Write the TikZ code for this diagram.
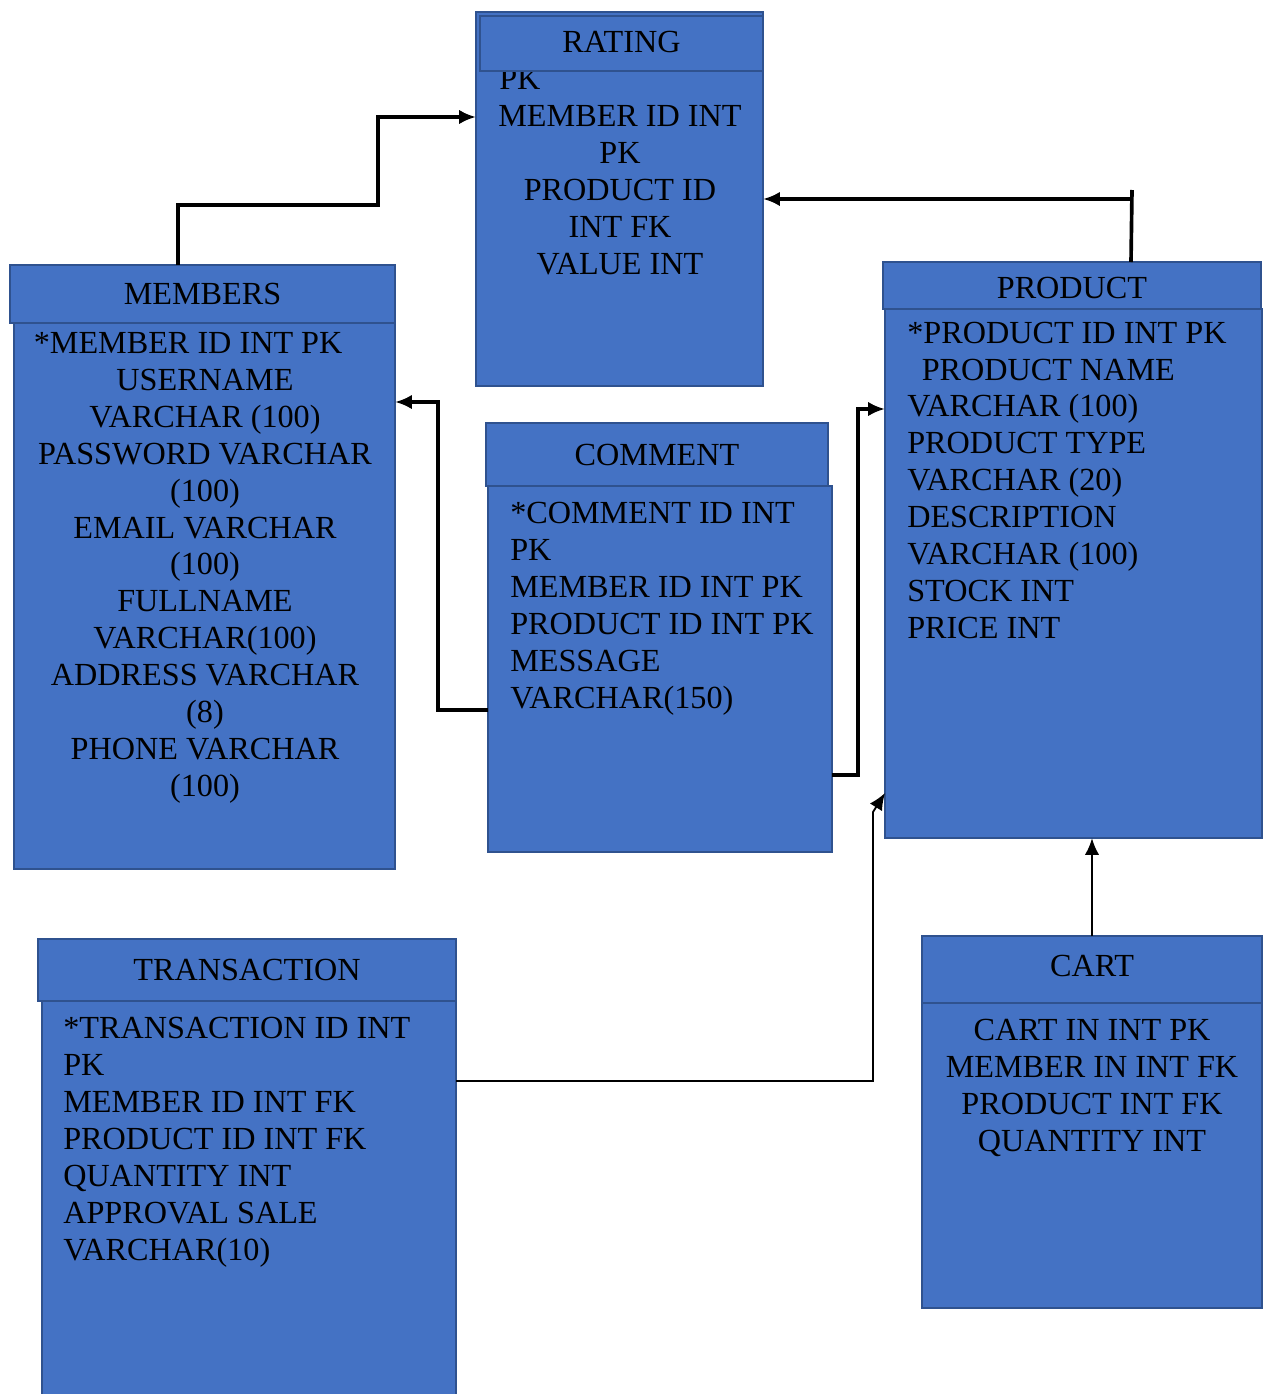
\documentclass[tikz,border=0pt]{standalone}
\usepackage{fontspec}
\setmainfont{Liberation Serif}
\usetikzlibrary{fit,arrows.meta}
\definecolor{boxblue}{HTML}{4472C4}
\definecolor{boxline}{HTML}{2F528F}
\tikzset{
  tbl/.style={draw=boxline, fill=boxblue, line width=1.4pt, inner sep=0pt, outer sep=0pt},
  rows/.style={inner sep=0pt, font=\fontsize{22.9}{26.2}\selectfont},
  link/.style={line width=2.6pt},
  thin link/.style={line width=1.3pt},
  tip/.style={-{Latex[length=0.42cm,width=0.36cm]}}
}
\begin{document}
\begin{tikzpicture}[x=0.025cm,y=-0.025cm]
\useasboundingbox (0,0) rectangle (1266,1394);
% table bodies
\node[tbl, fit={(476,12) (763,386)}] (rating) {};
\node[tbl, fit={(14,323) (395,869)}] (members) {};
\node[tbl, fit={(488,486) (832,852)}] (comment) {};
\node[tbl, fit={(885,309) (1262,838)}] (product) {};
\node[tbl, fit={(42,1001) (456,1400)}] (transaction) {};
\node[tbl, fit={(922,1003) (1262,1308)}] (cart) {};
% table rows (anchored at the last baseline)
\node[rows, anchor=base west] (ratingPk) at (499,89) {PK};
\node[rows, align=center, anchor=base] (ratingRows) at (620,274) {MEMBER ID INT\\PK\\PRODUCT ID\\INT FK\\VALUE INT};
\node[rows, align=center, anchor=base] (membersRows) at (205,796)
  {*MEMBER ID INT PK\hspace*{1.05em}\\USERNAME\\VARCHAR (100)\\PASSWORD VARCHAR\\(100)\\EMAIL VARCHAR\\(100)\\FULLNAME\\VARCHAR(100)\\ADDRESS VARCHAR\\(8)\\PHONE VARCHAR\\(100)};
\node[rows, align=left, anchor=base west] (commentRows) at (510,708)
  {*COMMENT ID INT\\PK\\MEMBER ID INT PK\\PRODUCT ID INT PK\\MESSAGE\\VARCHAR(150)};
\node[rows, align=left, anchor=base west] (productRows) at (907,638)
  {*PRODUCT ID INT PK\\\hspace*{0.45em}PRODUCT NAME\\VARCHAR (100)\\PRODUCT TYPE\\VARCHAR (20)\\DESCRIPTION\\VARCHAR (100)\\STOCK INT\\PRICE INT};
\node[rows, align=left, anchor=base west] (transactionRows) at (63,1260)
  {*TRANSACTION ID INT\\PK\\MEMBER ID INT FK\\PRODUCT ID INT FK\\QUANTITY INT\\APPROVAL SALE\\VARCHAR(10)};
\node[rows, align=center, anchor=base] (cartRows) at (1092,1151)
  {CART IN INT PK\\MEMBER IN INT FK\\PRODUCT INT FK\\QUANTITY INT};
% table headers
\node[tbl, fit={(480,16) (763,71)}] (rHead) {};
\node[tbl, fit={(10,265) (395,323)}] (mHead) {};
\node[tbl, fit={(486,423) (828,486)}] (cHead) {};
\node[tbl, fit={(883,262) (1261,309)}] (pHead) {};
\node[tbl, fit={(38,939) (456,1001)}] (tHead) {};
\node[tbl, fit={(922,936) (1262,1003)}] (kHead) {};
\node[rows] (rTitle) at ([yshift=0.03cm]rHead.center) {RATING};
\node[rows] (mTitle) at (mHead.center) {MEMBERS};
\node[rows] (cTitle) at (cHead.center) {COMMENT};
\node[rows] (pTitle) at ([yshift=-0.07cm]pHead.center) {PRODUCT};
\node[rows] (tTitle) at (tHead.center) {TRANSACTION};
\node[rows] (kTitle) at ([yshift=0.08cm]kHead.center) {CART};
% bends
\coordinate (m1) at (178,205);
\coordinate (m2) at (378,205);
\coordinate (m3) at (378,117);
\coordinate (p1) at (1131,199);
\coordinate (p2) at (1132,190);
\coordinate (c1) at (438,710);
\coordinate (c2) at (438,402);
\coordinate (c3) at (858,775);
\coordinate (c4) at (858,409);
\coordinate (t1) at (873,1081);
\coordinate (t2) at (873,812);
\coordinate (t3) at (885,793);
% links
\draw[link, tip] (mHead.north -| m1) -- (m1) -- (m2) -- (m3) -- (rating.west |- m3);
\draw[link] (pHead.north -| p1) -- (p2);
\draw[link, tip] (p1) -- (rating.east |- p1);
\draw[link, tip] (comment.west |- c1) -- (c1) -- (c2) -- (members.east |- c2);
\draw[link, tip] (comment.east |- c3) -- (c3) -- (c4) -- (product.west |- c4);
\draw[thin link, tip] (transaction.east |- t1) -- (t1) -- (t2) -- (product.west |- t3);
\draw[thin link, line width=1.8pt, tip] (kHead.north) -- (kHead.north |- product.south);
\end{tikzpicture}
\end{document}
